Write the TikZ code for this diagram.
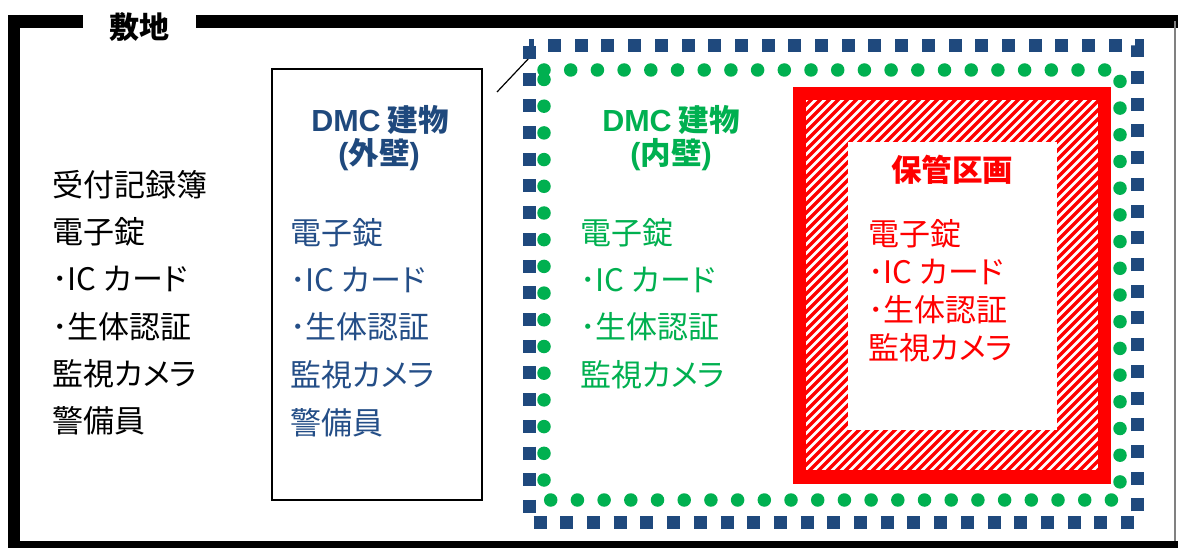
\documentclass[tikz,border=0pt]{standalone}
\usepackage{fontspec}
\setmainfont{Noto Sans CJK JP}
\newfontfamily\lat{Liberation Sans}
\newfontfamily\kana[RawFeature=+palt]{Noto Sans CJK JP}
\begin{document}
\begin{tikzpicture}[x=1pt,y=-1pt,
  txt/.style={anchor=west,inner sep=0pt,font=\fontsize{31}{36}\selectfont},
  ttl/.style={anchor=center,inner sep=0pt,font=\fontsize{30.5}{34}\selectfont\bfseries},
  frameline/.style={line width=12.5pt,black}]
\definecolor{navy}{RGB}{31,73,125}
\definecolor{tblue}{RGB}{36,78,135}
\definecolor{grn}{RGB}{0,176,80}
\definecolor{rd}{RGB}{255,0,0}
\useasboundingbox (0,0) rectangle (1178,548);
\fill[white] (0,0) rectangle (1178,548);
% site frame
\draw[frameline] (14,15) -- (14,548);
\draw[frameline] (8,21.5) -- (83,21.5);
\draw[frameline] (196,21.5) -- (1178,21.5);
\draw[line width=8pt,black] (8,545) -- (1178,545);
\draw[line width=1.2pt,black!50] (1175,21) -- (1175,541);
\node[ttl,font=\fontsize{30}{34}\selectfont\bfseries] (site) at (139,27) {敷地};
% left list
\node[txt] (l1) at (52,185) {受付記録簿};
\node[txt] (l2) at (52,232) {電子錠};
\node[txt] (l3) at (52,279) {･IC {\kana カード}};
\node[txt] (l4) at (52,327) {･生体認証};
\node[txt] (l5) at (52,374) {監視{\kana カメラ}};
\node[txt] (l6) at (52,421) {警備員};
% outer wall box
\draw[line width=1.8pt,black] (272,69) rectangle (482,500);
\node[ttl,text=navy] (ot1) at (380,120) {{\lat DMC} 建物};
\node[ttl,text=navy] (ot2) at (379,155) {{\lat (}外壁{\lat )}};
\node[txt,text=tblue] (o1) at (290,233) {電子錠};
\node[txt,text=tblue] (o2) at (290,280) {･IC {\kana カード}};
\node[txt,text=tblue] (o3) at (290,327) {･生体認証};
\node[txt,text=tblue] (o4) at (290,375) {監視{\kana カメラ}};
\node[txt,text=tblue] (o5) at (290,423) {警備員};
% leader
\coordinate (la) at (497,92);
\coordinate (lb) at (530,57);
\draw[line width=1.2pt,black] (la) -- (lb);
% navy dashed boundary
\draw[navy,line width=13pt,dash pattern=on 13pt off 13.7pt] (529,46) rectangle (1137,522);
% green dotted boundary
\draw[grn,line width=13.5pt,line cap=round,dash pattern=on 0pt off 26.7pt] (544,70) -- (1120,70) -- (1120,500) -- (544,500) -- cycle;
\node[ttl,text=grn] (it1) at (671,120) {{\lat DMC} 建物};
\node[ttl,text=grn] (it2) at (671,155) {{\lat (}内壁{\lat )}};
\node[txt,text=grn] (i1) at (580,233) {電子錠};
\node[txt,text=grn] (i2) at (580,280) {･IC {\kana カード}};
\node[txt,text=grn] (i3) at (580,327) {･生体認証};
\node[txt,text=grn] (i4) at (580,375) {監視{\kana カメラ}};
% red secure area
\begin{scope}
\clip (800,94) rectangle (1104,477);
\foreach \k in {-420,-411,...,320} {
  \draw[rd,line width=3.4pt] (800+\k,477) -- (800+\k+383,94);
}
\end{scope}
\fill[white] (848,142) rectangle (1057,430);
\draw[rd,line width=13.5pt] (799.5,93.5) rectangle (1104.5,477);
\node[ttl,text=rd] (rt) at (952,170) {保管区画};
\node[txt,text=rd] (r1) at (868,234) {電子錠};
\node[txt,text=rd] (r2) at (868,272) {･IC {\kana カード}};
\node[txt,text=rd] (r3) at (868,310) {･生体認証};
\node[txt,text=rd] (r4) at (868,348) {監視{\kana カメラ}};
\end{tikzpicture}
\end{document}
